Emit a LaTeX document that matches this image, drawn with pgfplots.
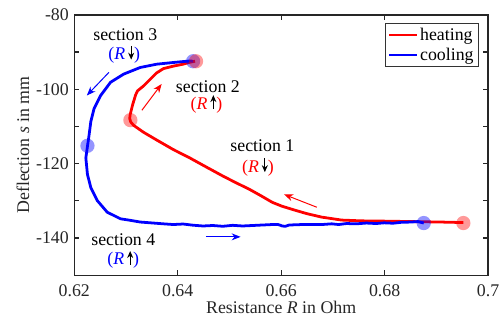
\documentclass[border=0pt]{standalone}
\usepackage{fontspec}
\setmainfont{Liberation Serif}
\usepackage{pgfplots}
\pgfplotsset{compat=1.18}
\usetikzlibrary{arrows.meta}
\newcommand{\fs}{\fontsize{18}{21}\selectfont}
\newsavebox\dnbox
\newsavebox\upbox
\begin{document}
\sbox\dnbox{\tikz[baseline=-1pt]\draw[black, line width=1.3pt,-{Stealth[length=7pt,width=6pt]}] (0,13pt)--(0,-1pt);}
\sbox\upbox{\tikz[baseline=-1pt]\draw[black, line width=1.3pt,-{Stealth[length=7pt,width=6pt]}] (0,-1pt)--(0,13pt);}
\begin{tikzpicture}
\begin{axis}[
  scale only axis, width=418pt, height=263pt,
  at={(0,0)}, anchor=south west,
  xmin=0.62, xmax=0.70, ymin=-150, ymax=-80,
  xtick={0.62,0.64,0.66,0.68,0.70},
  ytick={-140,-120,-100,-80},
  minor ytick={-150,-130,-110,-90},
  tick align=inside,
  major tick length=5pt, minor tick length=5pt,
  axis line style={line width=1.4pt, black!85},
  every tick/.style={line width=1.2pt, black!85},
  /pgf/number format/assume math mode=true,
  /pgf/number format/fixed, /pgf/number format/precision=2,
  scaled x ticks=false,
  tick label style={font=\fs, black!85},
  xticklabel style={yshift=-6pt},
  yticklabel style={xshift=-2pt},
  label style={font=\fs, black!85},
  xlabel={Resistance \textit{R} in Ohm},
  ylabel={Deflection \textit{s} in mm},
  xlabel style={yshift=2pt},
  legend style={at={(rel axis cs:0.978,0.97)}, anchor=north east, font=\fs,
    draw=black!80, line width=0.9pt, inner sep=3pt, row sep=2pt},
  legend cell align=left,
  legend image code/.code={\draw[#1, line width=2pt] (0pt,0pt) -- (28pt,0pt);},
]
\addplot[red, line width=2.8pt] coordinates {
(0.69522,-135.84) (0.69081,-135.70) (0.68507,-135.57) (0.67933,-135.44)
(0.67550,-135.38) (0.67168,-135.17) (0.66785,-134.38) (0.66498,-133.45)
(0.66268,-132.52) (0.66019,-131.46) (0.65828,-130.40) (0.65598,-128.54)
(0.65382,-126.87) (0.65120,-125.09) (0.64871,-123.32) (0.64545,-120.85)
(0.64233,-118.46) (0.63914,-116.21) (0.63589,-113.61) (0.63340,-111.57)
(0.63148,-109.71) (0.63091,-108.78) (0.63072,-107.85) (0.63081,-106.79)
(0.63129,-104.14) (0.63187,-101.49) (0.63225,-100.42) (0.63340,-99.10)
(0.63474,-97.24) (0.63589,-95.65) (0.63722,-94.46) (0.63914,-93.79)
(0.64105,-93.26) (0.64239,-92.73) (0.64335,-92.47)
};
\addlegendentry{heating}
\addplot[blue, line width=2.8pt] coordinates {
(0.64297,-92.47) (0.64233,-92.39) (0.63914,-92.81) (0.63594,-93.26)
(0.63277,-94.14) (0.62957,-95.92) (0.62702,-98.12) (0.62511,-101.67)
(0.62383,-105.20) (0.62320,-108.73) (0.62287,-112.28) (0.62255,-115.36)
(0.62224,-118.46) (0.62255,-122.89) (0.62320,-126.42) (0.62446,-129.95)
(0.62637,-133.05) (0.62894,-134.83) (0.63053,-135.17) (0.63277,-135.70)
(0.63531,-135.97) (0.63722,-136.18) (0.63914,-136.37) (0.64105,-136.23)
(0.64297,-136.55) (0.64488,-136.76) (0.64679,-136.63) (0.64871,-136.84)
(0.65062,-136.58) (0.65254,-136.76) (0.65445,-136.63) (0.65636,-136.50)
(0.65828,-136.37) (0.65943,-136.37) (0.66019,-136.75) (0.66077,-136.85)
(0.66153,-136.50) (0.66402,-136.37) (0.66785,-136.37) (0.66976,-136.18)
(0.67110,-136.37) (0.67263,-136.10) (0.67455,-136.18) (0.67646,-135.97)
(0.67837,-136.10) (0.67990,-135.91) (0.68163,-136.02) (0.68316,-135.78)
(0.68507,-135.70) (0.68641,-135.57) (0.68756,-135.97)
};
\addlegendentry{cooling}
\addplot[only marks, mark=*, mark size=7.2pt, forget plot,
  mark options={draw opacity=0, fill=blue, fill opacity=0.42}]
 coordinates {(0.62255,-115.20) (0.68756,-135.97) (0.64297,-92.47)};
\addplot[only marks, mark=*, mark size=7.2pt, forget plot,
  mark options={draw opacity=0, fill=red, fill opacity=0.4}]
 coordinates {(0.69522,-135.97) (0.63085,-108.30) (0.64354,-92.47)};
% arrows
\draw[red, line width=1pt, -{Stealth[length=9pt,width=7pt]}] (axis cs:0.633072,-105.65) -- (axis cs:0.636900,-98.57);
\draw[red, line width=1pt, -{Stealth[length=9pt,width=7pt]}] (axis cs:0.666890,-131.72) -- (axis cs:0.660574,-128.28);
\draw[blue, line width=1pt, -{Stealth[length=9pt,width=7pt]}] (axis cs:0.626699,-95.46) -- (axis cs:0.622431,-101.67);
\draw[blue, line width=1pt, -{Stealth[length=9pt,width=7pt]}] (axis cs:0.645455,-139.68) -- (axis cs:0.652153,-139.68);
% labels
\node[font=\fs] at (axis cs:0.629856,-85.3) {section 3};
\node[font=\fs, blue] at (axis cs:0.629665,-90.6) {(\textit{R}\,\usebox\dnbox)};
\node[font=\fs] at (axis cs:0.645837,-99.36) {section 2};
\node[font=\fs, red] at (axis cs:0.645550,-103.87) {(\textit{R}\,\usebox\upbox)};
\node[font=\fs] at (axis cs:0.656364,-115.28) {section 1};
\node[font=\fs, red] at (axis cs:0.655502,-120.85) {(\textit{R}\,\usebox\dnbox)};
\node[font=\fs] at (axis cs:0.629474,-140.48) {section 4};
\node[font=\fs, blue] at (axis cs:0.629474,-145.78) {(\textit{R}\,\usebox\upbox)};
\end{axis}
\pgfresetboundingbox
\path[use as bounding box] (-70pt,-53pt) rectangle (429pt,278pt);
\end{tikzpicture}
\end{document}
